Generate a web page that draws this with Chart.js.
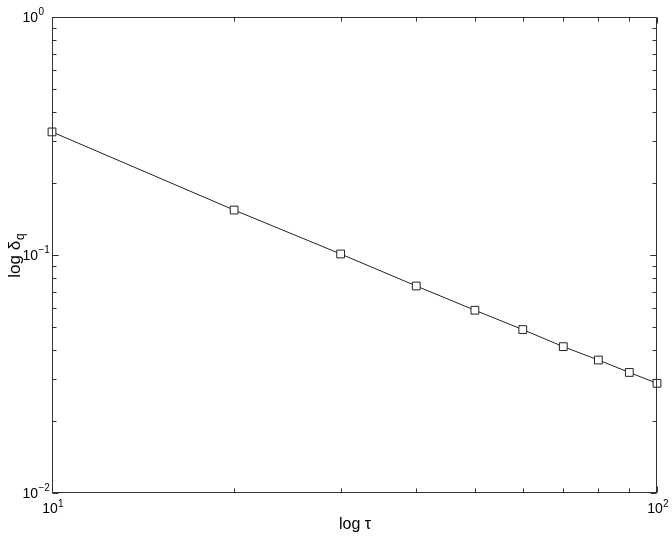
<!DOCTYPE html>
<html>
<head>
<meta charset="utf-8">
<script src="https://cdn.jsdelivr.net/npm/chart.js@4.4.1/dist/chart.umd.min.js"></script>
<style>
  html, body { margin: 0; padding: 0; background: #fff; }
  #wrap { width: 672px; height: 538px; }
</style>
</head>
<body>
<div id="wrap"><canvas id="grafica" width="672" height="538"></canvas></div>
<script>
  // tau values and delta_q
  const tau = [10, 20, 30, 40, 50, 60, 70, 80, 90, 100];
  const deltaQ = [0.329, 0.1545, 0.101, 0.0741, 0.0586, 0.0486, 0.0412, 0.0362, 0.0321, 0.0289];

  // tick labels (base 10 + exponent)
  const xTickVals = [10, 100];
  const xTickExp = ['1', '2'];
  const yTickVals = [0.01, 0.1, 1];
  const yTickExp = ['\u22122', '\u22121', '0'];

  const font = '"Liberation Sans", Arial, sans-serif';

  // box, inward ticks on all four sides, tick labels and axis titles
  const axesPlugin = {
    id: 'axesPlugin',
    afterDraw(chart) {
      const ctx = chart.ctx;
      const a = chart.chartArea;
      const xs = chart.scales.x;
      const ys = chart.scales.y;
      const L = Math.round(a.left) + 0.5, R = Math.round(a.right) - 0.5;
      const T = Math.round(a.top) + 0.5, B = Math.round(a.bottom) - 0.5;
      ctx.save();
      ctx.strokeStyle = '#333';
      ctx.lineWidth = 1;
      ctx.strokeRect(L, T, R - L, B - T);

      ctx.beginPath();
      // x ticks
      for (let m = 1; m <= 10; m++) {
        const v = 10 * m;
        const px = Math.round(xs.getPixelForValue(v)) + 0.5;
        const len = (m === 1 || m === 10) ? 6 : 4;
        ctx.moveTo(px, B); ctx.lineTo(px, B - len);
        ctx.moveTo(px, T); ctx.lineTo(px, T + len);
      }
      // y ticks
      for (let d = 0.01; d < 1; d *= 10) {
        for (let m = 1; m <= 10; m++) {
          const v = d * m;
          const py = Math.round(ys.getPixelForValue(v)) + 0.5;
          const len = (m === 1 || m === 10) ? 6 : 4;
          ctx.moveTo(L, py); ctx.lineTo(L + len, py);
          ctx.moveTo(R, py); ctx.lineTo(R - len, py);
        }
      }
      ctx.stroke();

      ctx.fillStyle = '#000';
      // y labels
      yTickVals.forEach((v, i) => {
        const py = ys.getPixelForValue(v);
        ctx.font = '14px ' + font;
        ctx.textAlign = 'right';
        ctx.textBaseline = 'middle';
        ctx.fillText('10', 38, py + 1);
        ctx.font = '10px ' + font;
        ctx.textAlign = 'left';
        ctx.fillText(yTickExp[i], 38.5, py - 5);
      });
      // x labels
      xTickVals.forEach((v, i) => {
        const px = xs.getPixelForValue(v);
        ctx.font = '14px ' + font;
        ctx.textAlign = 'center';
        ctx.textBaseline = 'middle';
        ctx.fillText('10', px - 2, 509);
        ctx.font = '10px ' + font;
        ctx.textAlign = 'left';
        ctx.fillText(xTickExp[i], px + 6, 504);
      });

      // axis titles
      ctx.font = '16px ' + font;
      ctx.textAlign = 'center';
      ctx.textBaseline = 'middle';
      ctx.fillText('log \u03c4', 355, 525);

      ctx.save();
      ctx.translate(15, 256);
      ctx.rotate(-Math.PI / 2);
      ctx.textAlign = 'left';
      ctx.font = '17px ' + font;
      const w1 = ctx.measureText('log \u03b4').width;
      ctx.font = '12px ' + font;
      const w2 = ctx.measureText('q').width;
      ctx.font = '17px ' + font;
      ctx.fillText('log \u03b4', -(w1 + w2) / 2, 0);
      ctx.font = '12px ' + font;
      ctx.fillText('q', -(w1 + w2) / 2 + w1 + 1, 6);
      ctx.restore();

      ctx.restore();
    }
  };

  const data = {
    datasets: [{
      label: 'delta_q',
      data: tau.map((t, i) => ({ x: t, y: deltaQ[i] })),
      borderColor: '#222',
      borderWidth: 1,
      pointStyle: 'rect',
      pointRadius: 5.5,
      pointBorderWidth: 1,
      pointBorderColor: '#222',
      pointBackgroundColor: '#fff',
      fill: false,
      tension: 0,
      clip: false
    }]
  };

  const config = {
    type: 'line',
    data: data,
    options: {
      responsive: false,
      animation: false,
      layout: { padding: { left: 52, right: 15, top: 17, bottom: 45 } },
      plugins: { legend: { display: false }, tooltip: { enabled: false } },
      scales: {
        x: { type: 'logarithmic', min: 10, max: 100, display: false },
        y: { type: 'logarithmic', min: 0.01, max: 1, display: false }
      }
    },
    plugins: [axesPlugin]
  };

  const myChart = new Chart(document.getElementById('grafica'), config);
</script>
</body>
</html>
